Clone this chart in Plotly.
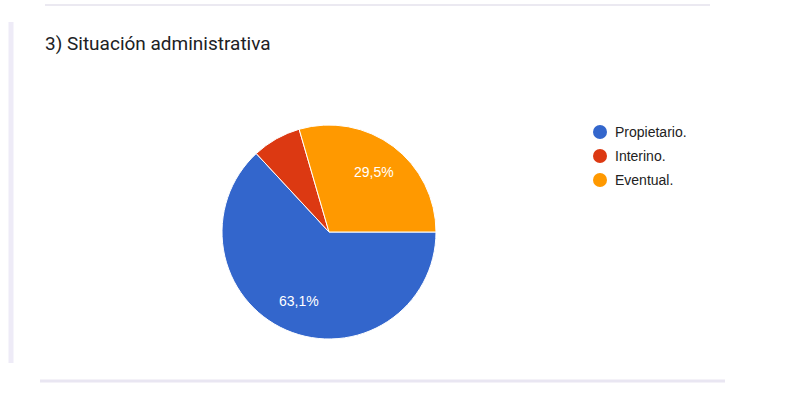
import math
import plotly.graph_objects as go

labels = ["Propietario.", "Interino.", "Eventual."]
values = [63.1, 7.4, 29.5]
colors = ["#3366cc", "#dc3912", "#ff9900"]
show_text = [True, False, True]
title_text = "3) Situación administrativa"

W, H = 800, 393
cx, cy, r = 329, 232, 107
start_deg = 90  # clockwise from 12 o'clock

fig = go.Figure()
fig.add_trace(go.Pie(
    labels=labels, values=values, sort=False, direction="clockwise", rotation=start_deg,
    marker=dict(colors=colors, line=dict(color="white", width=1)),
    textinfo="none",
    showlegend=False, hoverinfo="label+percent",
    domain=dict(x=[(cx - r) / W, (cx + r) / W], y=[(H - cy - r) / H, (H - cy + r) / H]),
))

annotations = [dict(text=title_text, xref="paper", yref="paper", x=43 / W, y=1 - 43 / H,
                    xanchor="left", yanchor="middle", showarrow=False,
                    font=dict(family="Roboto", size=19, color="#202124"))]

# slice percentage labels along each slice bisector (Google Charts style)
total = sum(values)
cum = 0.0
for v, s in zip(values, show_text):
    mid = start_deg + 360 * (cum + v / 2) / total
    cum += v
    if not s:
        continue
    a = math.radians(mid)
    px = cx + 0.70 * r * math.sin(a)
    py = cy - 0.70 * r * math.cos(a)
    pct = f"{100 * v / total:.1f}".replace(".", ",") + "%"
    annotations.append(dict(text=pct, xref="paper", yref="paper", x=px / W, y=1 - py / H,
                            xanchor="center", yanchor="middle", showarrow=False,
                            font=dict(family="Arial", size=14, color="white")))

shapes = [
    dict(type="line", xref="paper", yref="paper", x0=45 / W, x1=710 / W, y0=1 - 5 / H, y1=1 - 5 / H,
         line=dict(color="#ebe9f1", width=2)),
    dict(type="line", xref="paper", yref="paper", x0=11 / W, x1=11 / W, y0=1 - 22 / H, y1=1 - 363 / H,
         line=dict(color="#eeebf7", width=5)),
    dict(type="line", xref="paper", yref="paper", x0=40 / W, x1=725 / W, y0=1 - 381 / H, y1=1 - 381 / H,
         line=dict(color="#e9e6f2", width=3)),
]

# legend (circle marker + text)
leg_x, leg_y0, leg_dy, mr = 600, 132, 24, 7
for i, (lab, col) in enumerate(zip(labels, colors)):
    yy = leg_y0 + i * leg_dy
    shapes.append(dict(type="circle", xref="paper", yref="paper",
                       x0=(leg_x - mr) / W, x1=(leg_x + mr) / W,
                       y0=1 - (yy + mr) / H, y1=1 - (yy - mr) / H,
                       fillcolor=col, line=dict(width=0)))
    annotations.append(dict(text=lab, xref="paper", yref="paper", x=(leg_x + 13) / W, y=1 - yy / H,
                            xanchor="left", yanchor="middle", showarrow=False,
                            font=dict(family="Arial", size=14, color="#222222")))

fig.update_layout(
    width=W, height=H, margin=dict(l=0, r=0, t=0, b=0),
    paper_bgcolor="white", plot_bgcolor="white",
    shapes=shapes, annotations=annotations,
)
fig.write_html("out.html")
